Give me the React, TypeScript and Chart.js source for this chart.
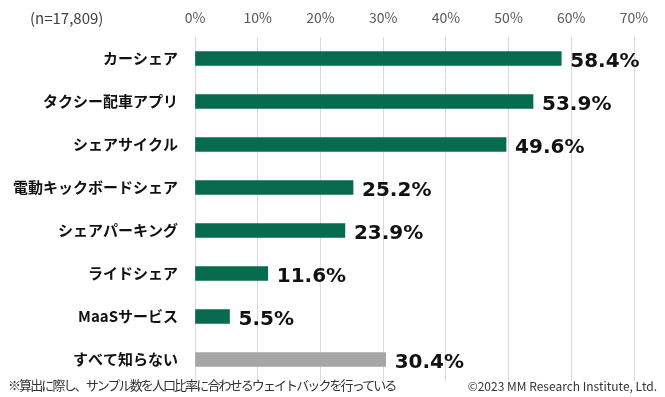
import React, { useEffect, useRef } from "react";
import { Chart, registerables } from "chart.js";

Chart.register(...registerables);

const categories = [
  "カーシェア",
  "タクシー配車アプリ",
  "シェアサイクル",
  "電動キックボードシェア",
  "シェアパーキング",
  "ライドシェア",
  "MaaSサービス",
  "すべて知らない",
];
const values = [58.4, 53.9, 49.6, 25.2, 23.9, 11.6, 5.5, 30.4];
const barColors = ["#076b4f", "#076b4f", "#076b4f", "#076b4f", "#076b4f", "#076b4f", "#076b4f", "#a6a6a6"];
const xTicks = [0, 10, 20, 30, 40, 50, 60, 70];
const sampleNote = "(n=17,809)";
const footNote = "※算出に際し、サンプル数を人口比率に合わせるウェイトバックを行っている";
const copyright = "©2023 MM Research Institute, Ltd.";

const valueLabelPlugin = {
  id: "valueLabels",
  afterDatasetsDraw(chart: any) {
    const ctx = chart.ctx;
    const meta = chart.getDatasetMeta(0);
    ctx.save();
    ctx.font = "bold 20px 'DejaVu Sans', 'Noto Sans CJK JP', sans-serif";
    ctx.fillStyle = "#111111";
    ctx.textAlign = "left";
    ctx.textBaseline = "middle";
    meta.data.forEach((bar: any, i: number) => {
      ctx.fillText(values[i].toFixed(1) + "%", bar.x + 9, bar.y + 3);
    });
    ctx.restore();
  },
};

export default function App() {
  const canvasRef = useRef<HTMLCanvasElement | null>(null);

  useEffect(() => {
    if (!canvasRef.current) return;
    const chart = new Chart(canvasRef.current, {
      type: "bar",
      data: {
        labels: categories,
        datasets: [
          {
            data: values,
            backgroundColor: barColors,
            barThickness: 14,
          },
        ],
      },
      options: {
        indexAxis: "y",
        animation: false,
        responsive: false,
        maintainAspectRatio: false,
        layout: { padding: { left: 0, right: 31, top: 0, bottom: 16 } },
        plugins: {
          legend: { display: false },
          tooltip: { enabled: false },
        },
        scales: {
          x: {
            position: "top",
            min: 0,
            max: 70,
            afterBuildTicks: (scale: any) => {
              scale.ticks = xTicks.map((v) => ({ value: v }));
            },
            afterFit: (scale: any) => {
              scale.height = 37;
              scale.paddingLeft = 0;
              scale.paddingRight = 0;
            },
            grid: { color: "#d9d9d9", drawTicks: false, lineWidth: 1 },
            border: { display: false },
            ticks: {
              padding: 11,
              color: "#595959",
              font: { family: "'Noto Sans CJK JP', sans-serif", size: 14 },
              callback: (v: any) => v + "%",
            },
          },
          y: {
            afterFit: (scale: any) => {
              scale.width = 195;
              scale.paddingTop = 0;
              scale.paddingBottom = 0;
            },
            grid: { display: false, drawTicks: false },
            border: { display: true, color: "#d9d9d9" },
            ticks: {
              padding: 17,
              color: "#111111",
              font: { family: "'Noto Sans CJK JP', sans-serif", size: 15, weight: "bold" },
            },
          },
        },
      },
      plugins: [valueLabelPlugin],
    } as any);
    return () => chart.destroy();
  }, []);

  return (
    <div style={{ position: "fixed", left: 0, top: 0, width: 665, height: 397, background: "#fff", fontFamily: "'Noto Sans CJK JP', sans-serif" }}>
      <canvas ref={canvasRef} width={665} height={397} style={{ position: "absolute", left: 0, top: 0 }} />
      <div style={{ position: "absolute", left: 30, top: 8, fontSize: 15, color: "#404040", lineHeight: "20px" }}>{sampleNote}</div>
      <div style={{ position: "absolute", left: 8, top: 376, fontSize: 13, color: "#333", lineHeight: "18px", letterSpacing: -1.9, whiteSpace: "nowrap" }}>{footNote}</div>
      <div style={{ position: "absolute", right: 8, top: 377, fontSize: 12, color: "#333", lineHeight: "18px" }}>{copyright}</div>
    </div>
  );
}
